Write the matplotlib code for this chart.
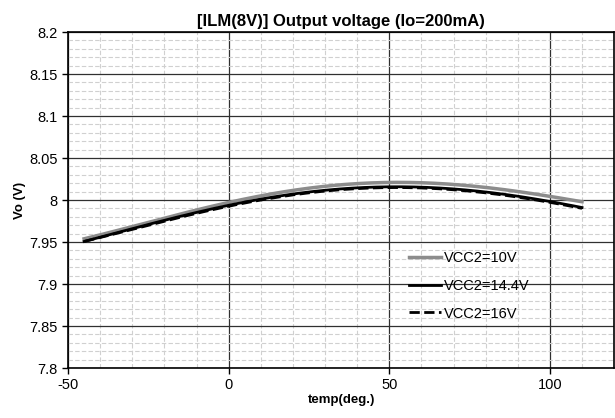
import numpy as np
import matplotlib
matplotlib.use('Agg')
from matplotlib import pyplot as plt
from matplotlib.ticker import MultipleLocator

plt.rcParams['font.family'] = ['Liberation Sans', 'DejaVu Sans']

temp = [-45, -25, 0, 25, 45, 75, 100, 110]
vo_10 = [7.954, 7.973, 7.997, 8.015, 8.020, 8.016, 8.006, 7.997]
vo_144 = [7.951, 7.970, 7.994, 8.011, 8.014, 8.011, 8.000, 7.990]
vo_16 = [7.951, 7.969, 7.993, 8.010, 8.013, 8.010, 7.999, 7.989]
labels = ['VCC2=10V', 'VCC2=14.4V', 'VCC2=16V']


def smooth(x, y, n=200):
    # polynomial through the read points, like Excel's smoothed line
    xs = np.linspace(min(x), max(x), n)
    c = np.polyfit(x, y, 4)
    return xs, np.polyval(c, xs)


fig = plt.figure(figsize=(6.15, 4.18), dpi=100)
ax = fig.add_axes([0.1106, 0.1196, 0.888, 0.8038])

for y, col, ls, lw, lab in [(vo_10, '#8c8c8c', '-', 2.5, labels[0]),
                            (vo_144, 'black', '-', 2.0, labels[1]),
                            (vo_16, 'black', '--', 2.0, labels[2])]:
    xs, ys = smooth(temp, y)
    ax.plot(xs, ys, color=col, ls=ls, lw=lw, label=lab)

ax.set_xlim(-50, 120)
ax.set_ylim(7.8, 8.2)
ax.xaxis.set_minor_locator(MultipleLocator(10))
ax.yaxis.set_minor_locator(MultipleLocator(0.01))
ax.set_yticks(np.arange(7.8, 8.2001, 0.05))
ax.set_yticklabels(['7.8', '7.85', '7.9', '7.95', '8', '8.05', '8.1', '8.15', '8.2'])
ax.set_xticks([-50, 0, 50, 100])
ax.set_xticklabels(['-50', '0', '50', '100'])

ax.grid(which='minor', color='#d0d0d0', ls=(0, (4, 2)), lw=0.8)
ax.grid(which='major', color='#303030', ls='-', lw=0.9)
ax.set_axisbelow(True)
ax.tick_params(which='both', direction='out', length=0, labelsize=10.5)
ax.tick_params(which='major', length=4, width=1)
for s in ax.spines.values():
    s.set_linewidth(1.2)

ax.set_title('[ILM(8V)] Output voltage (Io=200mA)', fontsize=12, fontweight='bold', pad=4)
ax.set_xlabel('temp(deg.)', fontsize=9.5, fontweight='bold', labelpad=1)
ax.set_ylabel('Vo (V)', fontsize=9.5, fontweight='bold', labelpad=2)

ax.legend(loc='center left', bbox_to_anchor=(0.6, 0.245), frameon=False,
          fontsize=10.5, handlelength=2.2, handletextpad=0.2, labelspacing=0.95)

plt.savefig('out.png', dpi=100)
